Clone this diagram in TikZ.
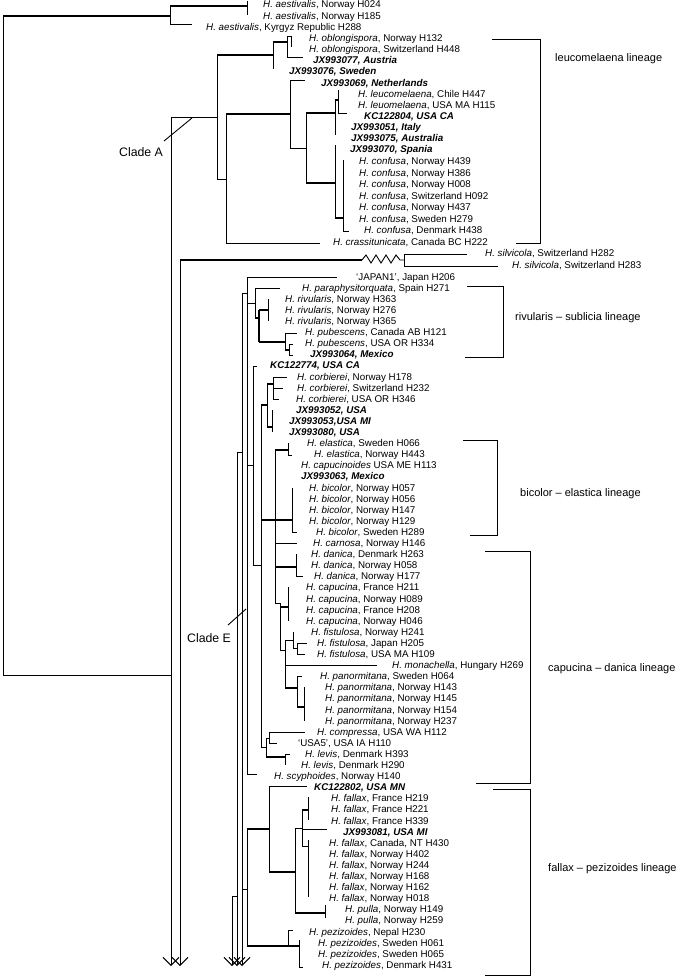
\documentclass[tikz,border=0pt]{standalone}
\usepackage{fontspec}
\setmainfont{Liberation Sans}
\usetikzlibrary{arrows.meta}
\newcommand\spn[1]{\textit{#1}}
\newcommand\acc[1]{\textbf{\textit{#1}}}
\begin{document}
\begin{tikzpicture}[x=1pt,y=-1pt,
  br/.style={line width=0.9pt},
  tb/.style={line width=2.8pt},
  arr/.style={line width=0.9pt,-{Straight Barb[length=8pt,width=16pt]}},
  lf/.style={anchor=west,inner sep=0pt,text height=7pt,text depth=0pt,font=\fontsize{9.8pt}{11pt}\selectfont},
  lab/.style={anchor=west,inner sep=0pt,text height=8pt,text depth=0pt,font=\fontsize{11pt}{13pt}\selectfont},
  clade/.style={anchor=west,inner sep=0pt,text height=8.5pt,text depth=0pt,font=\fontsize{12.3pt}{14pt}\selectfont}]
\useasboundingbox (0,0) rectangle (680,979);
\fill[white] (0,0) rectangle (680,979);
% ---------------- leaves ----------------
\node[lf] (l1) at (263,4.5) {\spn{H. aestivalis}, Norway H024};
\node[lf] (l2) at (263,15.7) {\spn{H. aestivalis}, Norway H185};
\node[lf] (l3) at (206,26.8) {\spn{H. aestivalis}, Kyrgyz Republic H288};
\node[lf] (l4) at (309,38.0) {\spn{H. oblongispora}, Norway H132};
\node[lf] (l5) at (309,49.1) {\spn{H. oblongispora}, Switzerland H448};
\node[lf] (l6) at (313,60.3) {\acc{JX993077, Austria}};
\node[lf] (l7) at (289,71.4) {\acc{JX993076, Sweden}};
\node[lf] (l8) at (321,82.6) {\acc{JX993069, Netherlands}};
\node[lf] (l9) at (358,93.7) {\spn{H. leucomelaena}, Chile H447};
\node[lf] (l10) at (358,104.9) {\spn{H. leuomelaena}, USA MA H115};
\node[lf] (l11) at (364,116.0) {\acc{KC122804, USA CA}};
\node[lf] (l12) at (351,127.2) {\acc{JX993051, Italy}};
\node[lf] (l13) at (351,138.3) {\acc{JX993075, Australia}};
\node[lf] (l14) at (350,149.5) {\acc{JX993070, Spania}};
\node[lf] (l15) at (359,161.0) {\spn{H. confusa}, Norway H439};
\node[lf] (l16) at (359,172.6) {\spn{H. confusa}, Norway H386};
\node[lf] (l17) at (359,184.1) {\spn{H. confusa}, Norway H008};
\node[lf] (l18) at (359,195.7) {\spn{H. confusa}, Switzerland H092};
\node[lf] (l19) at (359,207.2) {\spn{H. confusa}, Norway H437};
\node[lf] (l20) at (359,218.8) {\spn{H. confusa}, Sweden H279};
\node[lf] (l21) at (364,230.3) {\spn{H. confusa}, Denmark H438};
\node[lf] (l22) at (333,241.9) {\spn{H. crassitunicata}, Canada BC H222};
\node[lf] (l23) at (485,253.4) {\spn{H. silvicola}, Switzerland H282};
\node[lf] (l24) at (512,265.0) {\spn{H. silvicola}, Switzerland H283};
\node[lf] (l25) at (356,276.6) {‘JAPAN1’, Japan H206};
\node[lf] (l26) at (302,287.7) {\spn{H. paraphysitorquata}, Spain H271};
\node[lf] (l27) at (285,298.8) {\spn{H. rivularis}, Norway H363};
\node[lf] (l28) at (285,309.9) {\spn{H. rivularis}, Norway H276};
\node[lf] (l29) at (285,321.0) {\spn{H. rivularis}, Norway H365};
\node[lf] (l30) at (305,332.1) {\spn{H. pubescens}, Canada AB H121};
\node[lf] (l31) at (305,343.2) {\spn{H. pubescens}, USA OR H334};
\node[lf] (l32) at (310,354.3) {\acc{JX993064, Mexico}};
\node[lf] (l33) at (270,365.4) {\acc{KC122774, USA CA}};
\node[lf] (l34) at (297,376.5) {\spn{H. corbierei}, Norway H178};
\node[lf] (l35) at (297,387.6) {\spn{H. corbierei}, Switzerland H232};
\node[lf] (l36) at (296,398.7) {\spn{H. corbierei}, USA OR H346};
\node[lf] (l37) at (296,409.8) {\acc{JX993052, USA}};
\node[lf] (l38) at (289,420.9) {\acc{JX993053,USA MI}};
\node[lf] (l39) at (289,432.0) {\acc{JX993080, USA}};
\node[lf] (l40) at (307,443.1) {\spn{H. elastica}, Sweden H066};
\node[lf] (l41) at (314,454.2) {\spn{H. elastica}, Norway H443};
\node[lf] (l42) at (301,465.3) {\spn{H. capucinoides} USA ME H113};
\node[lf] (l43) at (301,476.4) {\acc{JX993063, Mexico}};
\node[lf] (l44) at (309,487.5) {\spn{H. bicolor}, Norway H057};
\node[lf] (l45) at (309,498.6) {\spn{H. bicolor}, Norway H056};
\node[lf] (l46) at (309,509.7) {\spn{H. bicolor}, Norway H147};
\node[lf] (l47) at (309,520.8) {\spn{H. bicolor}, Norway H129};
\node[lf] (l48) at (316,531.9) {\spn{H. bicolor}, Sweden H289};
\node[lf] (l49) at (313,543.0) {\spn{H. carnosa}, Norway H146};
\node[lf] (l50) at (311,554.1) {\spn{H. danica}, Denmark H263};
\node[lf] (l51) at (311,565.2) {\spn{H. danica}, Norway H058};
\node[lf] (l52) at (314,576.3) {\spn{H. danica}, Norway H177};
\node[lf] (l53) at (306,587.4) {\spn{H. capucina}, France H211};
\node[lf] (l54) at (306,598.5) {\spn{H. capucina}, Norway H089};
\node[lf] (l55) at (306,609.6) {\spn{H. capucina}, France H208};
\node[lf] (l56) at (306,620.7) {\spn{H. capucina}, Norway H046};
\node[lf] (l57) at (311,631.8) {\spn{H. fistulosa}, Norway H241};
\node[lf] (l58) at (317,642.9) {\spn{H. fistulosa}, Japan H205};
\node[lf] (l59) at (317,654.0) {\spn{H. fistulosa}, USA MA H109};
\node[lf] (l60) at (392,665.1) {\spn{H. monachella}, Hungary H269};
\node[lf] (l61) at (320,676.2) {\spn{H. panormitana}, Sweden H064};
\node[lf] (l62) at (325,687.3) {\spn{H. panormitana}, Norway H143};
\node[lf] (l63) at (325,698.4) {\spn{H. panormitana}, Norway H145};
\node[lf] (l64) at (325,709.5) {\spn{H. panormitana}, Norway H154};
\node[lf] (l65) at (325,720.6) {\spn{H. panormitana}, Norway H237};
\node[lf] (l66) at (317,731.7) {\spn{H. compressa}, USA WA H112};
\node[lf] (l67) at (298,742.8) {‘USA5’, USA IA H110};
\node[lf] (l68) at (305,753.9) {\spn{H. levis}, Denmark H393};
\node[lf] (l69) at (301,765.0) {\spn{H. levis}, Denmark H290};
\node[lf] (l70) at (274,776.1) {\spn{H. scyphoides}, Norway H140};
\node[lf] (l71) at (314,787.2) {\acc{KC122802, USA MN}};
\node[lf] (l72) at (331,798.3) {\spn{H. fallax}, France H219};
\node[lf] (l73) at (331,809.4) {\spn{H. fallax}, France H221};
\node[lf] (l74) at (331,820.5) {\spn{H. fallax}, France H339};
\node[lf] (l75) at (343,831.6) {\acc{JX993081, USA MI}};
\node[lf] (l76) at (329,842.7) {\spn{H. fallax}, Canada, NT H430};
\node[lf] (l77) at (329,853.8) {\spn{H. fallax}, Norway H402};
\node[lf] (l78) at (329,864.9) {\spn{H. fallax}, Norway H244};
\node[lf] (l79) at (329,876.0) {\spn{H. fallax}, Norway H168};
\node[lf] (l80) at (329,887.1) {\spn{H. fallax}, Norway H162};
\node[lf] (l81) at (329,898.2) {\spn{H. fallax}, Norway H018};
\node[lf] (l82) at (345,909.3) {\spn{H. pulla}, Norway H149};
\node[lf] (l83) at (345,920.4) {\spn{H. pulla}, Norway H259};
\node[lf] (l84) at (309,931.5) {\spn{H. pezizoides}, Nepal H230};
\node[lf] (l85) at (318,942.6) {\spn{H. pezizoides}, Sweden H061};
\node[lf] (l86) at (318,953.7) {\spn{H. pezizoides}, Sweden H065};
\node[lf] (l87) at (322,964.8) {\spn{H. pezizoides}, Denmark H431};
% ---------------- root and aestivalis ----------------
\draw[br] (3,16) -- (3,675);
\draw[tb] (3,16) -- (170,16);
\draw[br] (3,675) -- (171,675);
\draw[br] (170,6) -- (170,24);
\draw[tb] (170,6) -- (247,6);
\draw[br] (247,1) -- (247,15);
\draw[br] (170,24) -- (192,24);
% long lines with arrows
\draw[arr] (171,117) -- (171,966);
\draw[arr] (180,260) -- (180,966);
% ---------------- Clade A ----------------
\draw[br] (171,117) -- (217,117);
\draw[br] (217,55) -- (217,179);
\draw[br] (217,179) -- (226,179);
\draw[tb] (217,55) -- (273,55);
\draw[br] (273,42) -- (273,69);
\draw[tb] (273,42) -- (287,42);
\draw[br] (287,36) -- (287,57);
\draw[br] (287,36) -- (291,36);
\draw[br] (291,36) -- (291,47);
\draw[br] (287,57) -- (303,57);
\draw[br] (226,114) -- (226,243);
\draw[tb] (226,114) -- (290,114);
\draw[br] (226,243) -- (320,243);
\draw[br] (290,80) -- (290,148);
\draw[br] (290,80) -- (305,80);
\draw[br] (290,148) -- (306,148);
\draw[br] (306,113) -- (306,183);
\draw[tb] (306,113) -- (335,113);
\draw[tb] (306,183) -- (335,183);
\draw[br] (335,100) -- (335,135);
\draw[tb] (335,100) -- (338,100);
\draw[br] (338,90) -- (338,113);
\draw[br] (338,113) -- (347,113);
\draw[br] (335,145) -- (335,218);
\draw[tb] (335,218) -- (343,218);
\draw[br] (343,160) -- (343,231);
\draw[br] (343,231) -- (349,231);
% ---------------- silvicola ----------------
\draw[tb] (180,260) -- (362,260);
\draw[br] (362,260) -- (366,255) -- (371,263) -- (376,255) -- (381,263) -- (386,255) -- (391,263) -- (396,255) -- (400,260) -- (404,260);
\draw[br] (404,254) -- (404,266);
\draw[br] (404,254) -- (467,254);
\draw[br] (404,266) -- (498,266);
% ---------------- Clade E backbone ----------------
\draw[arr] (242,293) -- (242,966);
\draw[br] (242,293) -- (247,293);
\draw[arr] (237,452) -- (237,966);
\draw[br] (237,452) -- (242,452);
\draw[br] (237,896) -- (232,896);
\draw[arr] (232,896) -- (232,966);
% crown
\draw[br] (247,277) -- (247,774);
\draw[br] (247,277) -- (337,277);
% rivularis - sublicia
\draw[br] (247,303) -- (255,303);
\draw[br] (255,288) -- (255,318);
\draw[br] (255,288) -- (280,288);
\draw[tb] (255,318) -- (259,318);
\draw[tb] (259,310) -- (259,342);
\draw[tb] (259,310) -- (268,310);
\draw[br] (268,299) -- (268,321);
\draw[tb] (259,342) -- (285,342);
\draw[br] (285,333) -- (285,350);
\draw[br] (285,333) -- (297,333);
\draw[tb] (285,350) -- (289,350);
\draw[br] (289,344) -- (289,355);
\draw[br] (289,344) -- (293,344);
\draw[br] (289,355) -- (293,355);
% ladder
\draw[br] (247,465) -- (253,465);
\draw[br] (253,366) -- (253,565);
\draw[br] (253,366) -- (257,366);
\draw[br] (253,565) -- (261,565);
\draw[br] (261,405) -- (261,747);
% corbierei
\draw[tb] (261,405) -- (267,405);
\draw[br] (267,384) -- (267,427);
\draw[tb] (267,384) -- (273,384);
\draw[br] (273,377) -- (273,399);
\draw[br] (273,377) -- (287,377);
\draw[br] (273,388) -- (283,388);
\draw[br] (273,399) -- (279,399);
\draw[tb] (267,427) -- (272,427);
\draw[br] (272,410) -- (272,432);
% bicolor - elastica and capucina - danica
\draw[tb] (261,520) -- (292,520);
\draw[br] (275,450) -- (275,603);
\draw[tb] (275,450) -- (288,450);
\draw[br] (288,443) -- (288,455);
\draw[br] (288,455) -- (292,455);
\draw[br] (292,488) -- (292,532);
\draw[br] (292,532) -- (297,532);
\draw[br] (275,543) -- (297,543);
\draw[tb] (275,567) -- (296,567);
\draw[br] (296,554) -- (296,576);
\draw[br] (296,576) -- (303,576);
\draw[br] (275,603) -- (280,603);
\draw[br] (280,603) -- (280,650);
\draw[tb] (280,607) -- (288,607);
\draw[br] (288,587) -- (288,621);
\draw[br] (280,650) -- (285,650);
\draw[br] (285,640) -- (285,688);
\draw[br] (285,640) -- (293,640);
\draw[br] (293,632) -- (293,648);
\draw[br] (293,648) -- (297,648);
\draw[br] (297,643) -- (297,654);
\draw[br] (297,643) -- (307,643);
\draw[br] (297,654) -- (305,654);
\draw[br] (285,665) -- (377,665);
\draw[tb] (285,688) -- (297,688);
\draw[br] (297,676) -- (297,707);
\draw[br] (297,676) -- (302,676);
\draw[tb] (297,707) -- (304,707);
\draw[br] (304,687) -- (304,721);
% compressa - levis
\draw[br] (261,747) -- (266,747);
\draw[br] (266,738) -- (266,757);
\draw[br] (266,738) -- (269,738);
\draw[br] (269,732) -- (269,743);
\draw[br] (269,732) -- (305,732);
\draw[br] (269,743) -- (277,743);
\draw[tb] (266,757) -- (285,757);
\draw[br] (285,754) -- (285,765);
\draw[br] (285,754) -- (290,754);
\draw[br] (247,774) -- (257,774);
% fallax - pezizoides
\draw[br] (242,889) -- (247,889);
\draw[br] (247,829) -- (247,946);
\draw[tb] (247,829) -- (269,829);
\draw[br] (269,786) -- (269,872);
\draw[br] (269,786) -- (307,786);
\draw[tb] (269,872) -- (295,872);
\draw[br] (295,828) -- (295,913);
\draw[br] (295,828) -- (302,828);
\draw[br] (302,810) -- (302,846);
\draw[tb] (302,810) -- (308,810);
\draw[br] (308,797) -- (308,820);
\draw[br] (302,829) -- (327,829);
\draw[br] (302,846) -- (308,846);
\draw[br] (308,840) -- (308,897);
\draw[tb] (295,913) -- (325,913);
\draw[br] (325,905) -- (325,918);
\draw[tb] (247,946) -- (299,946);
\draw[br] (288,930) -- (288,946);
\draw[br] (288,930) -- (293,930);
\draw[br] (299,940) -- (299,967);
\draw[br] (299,967) -- (303,967);
% ---------------- clade labels ----------------
\node[clade] (cA) at (119,152) {Clade A};
\coordinate (pA) at (192,118);
\draw[br] (164,141) -- (pA);
\node[clade] (cE) at (187,638) {Clade E};
\coordinate (pE) at (246,609);
\draw[br] (228,625) -- (pE);
% ---------------- lineage brackets ----------------
\draw[br] (492,39) -- (540,39) -- (540,243) -- (516,243);
\node[lab] (L1) at (555,58) {leucomelaena lineage};
\draw[br] (467,286) -- (503,286) -- (503,357) -- (465,357);
\node[lab] (L2) at (515,316) {rivularis – sublicia lineage};
\draw[br] (463,440) -- (497,440) -- (497,535) -- (470,535);
\node[lab] (L3) at (520,492) {bicolor – elastica lineage};
\draw[br] (485,551) -- (530,551) -- (530,783) -- (476,783);
\node[lab] (L4) at (548,667) {capucina – danica lineage};
\draw[br] (493,789) -- (530,789) -- (530,975) -- (485,975);
\node[lab] (L5) at (548,867) {fallax – pezizoides lineage};
\end{tikzpicture}
\end{document}
